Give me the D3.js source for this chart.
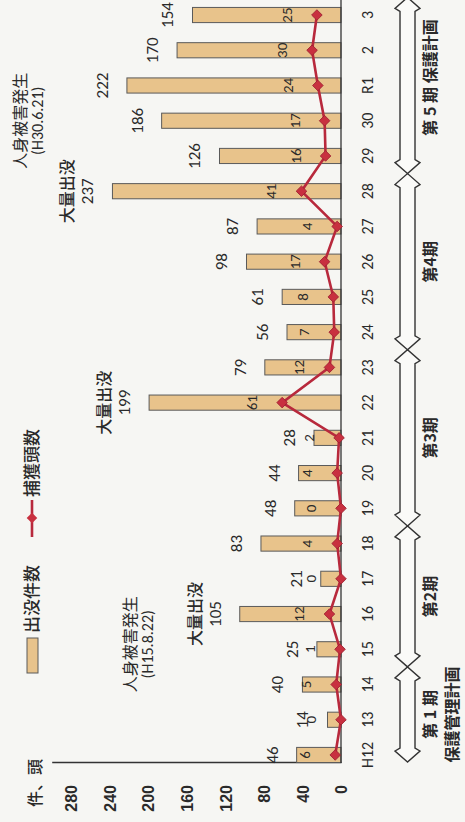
<!DOCTYPE html>
<html>
<head>
<meta charset="utf-8">
<script src="https://cdn.jsdelivr.net/npm/d3@7"></script>
<style>
  body { margin: 0; background: #f6f6f3; }
  svg { display: block; }
</style>
</head>
<body>
<div id="viz"></div>
<script>
// fiscal years (Heisei 12 .. Reiwa 3)
const years = ['H12', '13', '14', '15', '16', '17', '18', '19', '20', '21', '22',
  '23', '24', '25', '26', '27', '28', '29', '30', 'R1', '2', '3'];
// 出没件数 (sightings)
const sightings = [46, 14, 40, 25, 105, 21, 83, 48, 44, 28, 199,
  79, 56, 61, 98, 87, 237, 126, 186, 222, 170, 154];
// 捕獲頭数 (captures)
const captures = [6, 0, 5, 1, 12, 0, 4, 0, 4, 2, 61,
  12, 7, 8, 17, 4, 41, 16, 17, 24, 30, 25];
const yTicks = [0, 40, 80, 120, 160, 200, 240, 280];
const massYears = ['16', '22', '28'];
const injuryNotes = [
  { year: '15', lines: ['人身被害発生', '(H15.8.22)'] },
  { year: '30', lines: ['人身被害発生', '(H30.6.21)'] }
];
const periods = [
  { from: 'H12', to: '14', lines: ['第 1 期', '保護管理計画'] },
  { from: '15', to: '18', lines: ['第2期'] },
  { from: '19', to: '23', lines: ['第3期'] },
  { from: '24', to: '28', lines: ['第4期'] },
  { from: '29', to: '3', lines: ['第 5 期 保護計画'] }
];

const W = 822;   // chart is drawn upright, then turned a quarter left
const H = 465;
const AXIS_X = 59;
const BAR_FILL = '#e8c38b';
const RED = '#b8293c';
const JP = '"Noto Sans CJK JP", "Noto Sans", sans-serif';
const NUM = 'Calibri, Carlito, "Liberation Sans", Arial, sans-serif';

const svg = d3.select('#viz')
  .append('svg')
  .attr('width', H)
  .attr('height', W);

svg.append('rect').attr('width', H).attr('height', W).attr('fill', '#f6f6f3');

const g = svg.append('g')
  .attr('transform', `translate(0,${W}) rotate(-90)`);

const x = d3.scaleBand()
  .domain(years)
  .range([49.4, 824.6])
  .paddingInner(0.57)
  .paddingOuter(0.285);
const bw = x.bandwidth();
const cx = d => x(d) + bw / 2;

const y = d3.scaleLinear().domain([0, 300]).range([341, 51.7]);

const rows = years.map((yr, i) => ({ year: yr, s: sightings[i], c: captures[i] }));

// value axis
const yAxis = g.append('g')
  .attr('transform', `translate(${AXIS_X},0)`)
  .call(d3.axisLeft(y).tickValues(yTicks).tickSize(0).tickPadding(22).tickSizeOuter(0));
yAxis.select('.domain').attr('stroke', '#333').attr('stroke-width', 1.3);
yAxis.selectAll('text')
  .attr('font-family', '"Liberation Sans Narrow", "Arial Narrow", "Liberation Sans", sans-serif')
  .attr('font-weight', 'bold')
  .attr('font-size', 16)
  .attr('fill', '#2a2a2a')
  .attr('dy', '0.36em');

g.append('text')
  .attr('x', 39)
  .attr('y', 41)
  .attr('text-anchor', 'middle')
  .attr('font-family', JP)
  .attr('font-weight', 500)
  .attr('font-size', 16)
  .attr('fill', '#2a2a2a')
  .text('件、頭');

// category axis
const xAxis = g.append('g')
  .attr('transform', `translate(0,${y(0)})`)
  .call(d3.axisBottom(x).tickSize(0).tickPadding(21));
xAxis.select('.domain').remove();
xAxis.selectAll('text')
  .attr('font-family', NUM)
  .attr('font-size', 16)
  .attr('fill', '#2a2a2a');

// bars
g.selectAll('rect.bar')
  .data(rows)
  .enter()
  .append('rect')
  .attr('class', 'bar')
  .attr('x', d => x(d.year))
  .attr('y', d => y(d.s))
  .attr('width', bw)
  .attr('height', d => y(0) - y(d.s))
  .attr('fill', BAR_FILL)
  .attr('stroke', '#5a5a5a')
  .attr('stroke-width', 1);

g.append('line')
  .attr('x1', AXIS_X).attr('x2', W + 5)
  .attr('y1', y(0)).attr('y2', y(0))
  .attr('stroke', '#333').attr('stroke-width', 1.3);

// sightings labels
g.selectAll('text.sv')
  .data(rows)
  .enter()
  .append('text')
  .attr('class', 'sv')
  .attr('x', d => cx(d.year))
  .attr('y', d => y(d.s) - 19)
  .attr('text-anchor', 'middle')
  .attr('font-family', NUM)
  .attr('font-size', 17)
  .attr('fill', '#2a2a2a')
  .text(d => d.s);

g.selectAll('text.mass')
  .data(rows.filter(d => massYears.includes(d.year)))
  .enter()
  .append('text')
  .attr('class', 'mass')
  .attr('x', d => cx(d.year))
  .attr('y', d => y(d.s) - 39)
  .attr('text-anchor', 'middle')
  .attr('font-family', JP)
  .attr('font-weight', 500)
  .attr('font-size', 16)
  .attr('fill', '#2a2a2a')
  .text('大量出没');

// injury notes
injuryNotes.forEach(n => {
  const t = g.append('text')
    .attr('text-anchor', 'middle')
    .attr('font-family', JP)
    .attr('font-size', 16)
    .attr('fill', '#2a2a2a');
  const top = n.year === '15' ? 136 : 26;
  n.lines.forEach((l, i) => {
    t.append('tspan')
      .attr('x', cx(n.year) + (n.year === '15' ? 5 : 0))
      .attr('y', top + i * 17)
      .attr('font-family', i === 0 ? JP : NUM)
      .text(l);
  });
});

// captures line
const line = d3.line()
  .x(d => cx(d.year))
  .y(d => y(d.c));

g.append('path')
  .datum(rows)
  .attr('d', line)
  .attr('fill', 'none')
  .attr('stroke', RED)
  .attr('stroke-width', 2.6);

const diamond = d3.symbol(d3.symbolSquare, 56);
g.selectAll('path.mk')
  .data(rows)
  .enter()
  .append('path')
  .attr('class', 'mk')
  .attr('d', diamond)
  .attr('transform', d => `translate(${cx(d.year)},${y(d.c)}) rotate(45)`)
  .attr('fill', '#c8303f')
  .attr('stroke', '#9c1f30')
  .attr('stroke-width', 0.8);

g.selectAll('text.cv')
  .data(rows)
  .enter()
  .append('text')
  .attr('class', 'cv')
  .attr('x', d => cx(d.year))
  .attr('y', d => y(d.c) - 25)
  .attr('text-anchor', 'middle')
  .attr('font-family', NUM)
  .attr('font-size', 15)
  .attr('fill', '#2a2a2a')
  .text(d => d.c);

// legend
const legend = g.append('g');
legend.append('rect')
  .attr('x', 149).attr('y', 27).attr('width', 35).attr('height', 11)
  .attr('fill', BAR_FILL).attr('stroke', '#5a5a5a');
legend.append('text')
  .attr('x', 189).attr('y', 38)
  .attr('font-family', JP).attr('font-weight', 500).attr('font-size', 17)
  .attr('fill', '#2a2a2a')
  .text('出没件数');
legend.append('line')
  .attr('x1', 285).attr('x2', 322).attr('y1', 32).attr('y2', 32)
  .attr('stroke', RED).attr('stroke-width', 2.6);
legend.append('path')
  .attr('d', diamond)
  .attr('transform', 'translate(304,32) rotate(45)')
  .attr('fill', '#c8303f');
legend.append('text')
  .attr('x', 325).attr('y', 38)
  .attr('font-family', JP).attr('font-weight', 500).attr('font-size', 17)
  .attr('fill', '#2a2a2a')
  .text('捕獲頭数');

// period arrows
const step = x.step();
const edge = (yr, side) => {
  const i = years.indexOf(yr);
  if (side < 0 && i === 0) return AXIS_X + 1;
  return cx(yr) + side * step / 2;
};
const A_TOP = 395, A_BOT = 420, S_TOP = 400, S_BOT = 415, HEAD = 11;
const arrowPath = (a, b) => {
  const m = (A_TOP + A_BOT) / 2;
  return `M${a},${m} L${a + HEAD},${A_TOP} L${a + HEAD + 3},${S_TOP} L${b - HEAD - 3},${S_TOP}` +
    ` L${b - HEAD},${A_TOP} L${b},${m} L${b - HEAD},${A_BOT} L${b - HEAD - 3},${S_BOT}` +
    ` L${a + HEAD + 3},${S_BOT} L${a + HEAD},${A_BOT} Z`;
};

periods.forEach(p => {
  const a = edge(p.from, -1);
  const b = edge(p.to, 1);
  g.append('path')
    .attr('d', arrowPath(a, b))
    .attr('fill', '#fafaf8')
    .attr('stroke', '#333')
    .attr('stroke-width', 1.4);
  const t = g.append('text')
    .attr('text-anchor', 'middle')
    .attr('font-family', JP)
    .attr('font-weight', 700)
    .attr('font-size', 16)
    .attr('fill', '#2a2a2a');
  p.lines.forEach((l, i) => {
    t.append('tspan')
      .attr('x', (a + b) / 2 + (p.from === '29' ? 8 : 0))
      .attr('y', 436 + i * 22)
      .text(l);
  });
});
</script>
</body>
</html>
